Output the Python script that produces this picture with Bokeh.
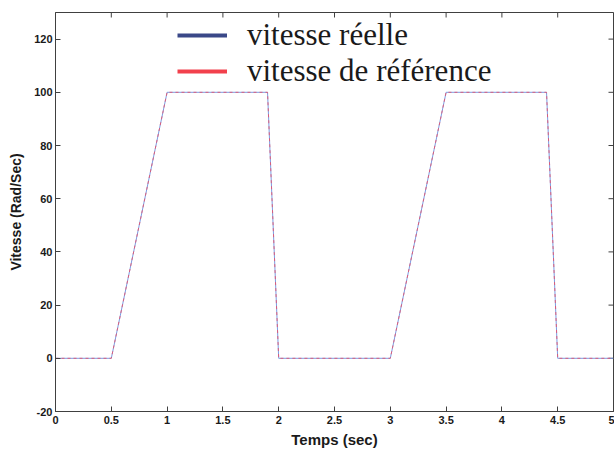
import numpy as np
from bokeh.plotting import figure
from bokeh.models import LinearAxis, FixedTicker, Legend, LegendItem, Range1d
from bokeh.embed import file_html
from bokeh.resources import INLINE

# Data
temps = [0.0, 0.5, 1.0, 1.9, 2.0, 3.0, 3.5, 4.4, 4.5, 5.0]
vitesse_reelle = [0, 0, 100, 100, 0, 0, 100, 100, 0, 0]
vitesse_reference = [0, 0, 100, 100, 0, 0, 100, 100, 0, 0]

x_ticks = [0, 0.5, 1, 1.5, 2, 2.5, 3, 3.5, 4, 4.5, 5]
x_tick_labels = ["0", "0.5", "1", "1.5", "2", "2.5", "3", "3.5", "4", "4.5", "5"]
y_ticks = [-20, 0, 20, 40, 60, 80, 100, 120]
y_tick_labels = ["-20", "0", "20", "40", "60", "80", "100", "120"]
x_min, x_max = 0, 5
y_min, y_max = -20, 130

label_real = "vitesse réelle"
label_ref = "vitesse de référence"
x_title = "Temps (sec)"
y_title = "Vitesse (Rad/Sec)"

p = figure(width=614, height=450, output_backend="svg", toolbar_location=None,
           x_range=Range1d(x_min, x_max), y_range=Range1d(y_min, y_max),
           x_axis_location=None, y_axis_location=None,
           min_border_left=55, min_border_right=1, min_border_top=12, min_border_bottom=38)
p.background_fill_color = "#ffffff"
p.border_fill_color = "#ffffff"
p.outline_line_color = "#404040"
p.xgrid.visible = False
p.ygrid.visible = False

axis_color = "#404040"
font = "Liberation Sans"

def style_axis(ax):
    ax.axis_line_color = axis_color
    ax.major_tick_line_color = axis_color
    ax.major_tick_in = 5
    ax.major_tick_out = 0
    ax.minor_tick_line_color = None
    ax.major_label_text_font = font
    ax.major_label_text_font_style = "bold"
    ax.major_label_text_font_size = "11px"
    ax.major_label_text_color = "#1a1a1a"
    ax.axis_label_text_font = font
    ax.axis_label_text_font_style = "bold"
    ax.axis_label_text_color = "#1a1a1a"

xb = LinearAxis(ticker=FixedTicker(ticks=x_ticks), axis_label=x_title,
                major_label_overrides={t: l for t, l in zip(x_ticks, x_tick_labels)})
style_axis(xb)
xb.major_label_standoff = 4
xb.axis_label_standoff = 4
xb.axis_label_text_font_size = "15px"
p.add_layout(xb, "below")

yl = LinearAxis(ticker=FixedTicker(ticks=y_ticks), axis_label=y_title,
                major_label_overrides={t: l for t, l in zip(y_ticks, y_tick_labels)})
style_axis(yl)
yl.major_label_standoff = 3
yl.axis_label_standoff = 7
yl.axis_label_text_font_size = "14px"
p.add_layout(yl, "left")

# inward tick marks on the top and right edges of the box
p.scatter(x_ticks, [y_max] * len(x_ticks), marker="dash", size=10, angle=np.pi / 2,
          line_color=axis_color, line_width=1)
p.scatter([x_max] * len(y_ticks), y_ticks, marker="dash", size=10,
          line_color=axis_color, line_width=1)

p.line(temps, vitesse_reelle, line_color="#7b9be0", line_width=1)
p.line(temps, vitesse_reference, line_color="#e8506a", line_width=1, line_dash="3 3",
       line_alpha=0.85)

# legend-only renderers (thick key lines like the reference)
leg_real = p.line(np.array([np.nan]), np.array([np.nan]), line_color="#3a4888", line_width=4)
leg_ref = p.line(np.array([np.nan]), np.array([np.nan]), line_color="#f2404c", line_width=4)

legend = Legend(items=[LegendItem(label=label_real, renderers=[leg_real]),
                       LegendItem(label=label_ref, renderers=[leg_ref])],
                location=(122, 322), border_line_color=None, background_fill_alpha=0,
                label_text_font="Liberation Serif", label_text_font_size="31px",
                label_text_color="#1a1a1a",
                glyph_width=50, glyph_height=36, label_height=36,
                spacing=0, padding=0, margin=0, label_standoff=20)
p.add_layout(legend)

open("out.html", "w").write(file_html(p, INLINE))
